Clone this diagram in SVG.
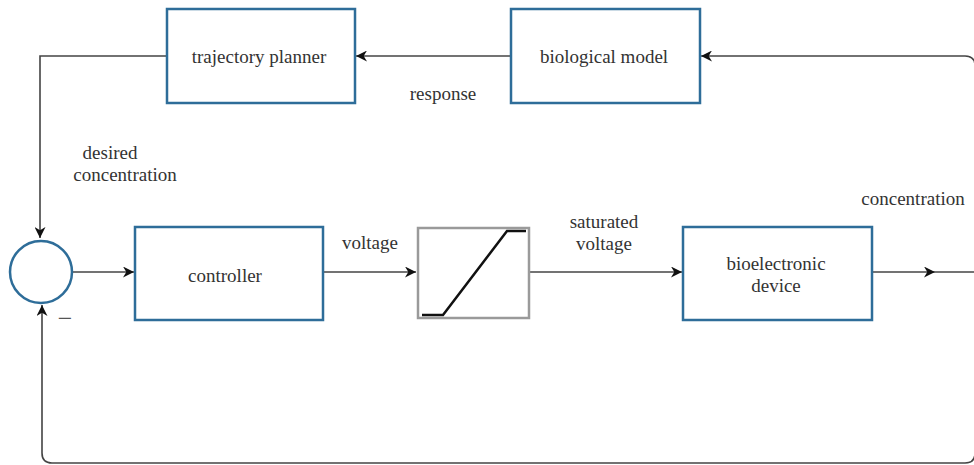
<svg xmlns="http://www.w3.org/2000/svg" width="974" height="465" viewBox="0 0 974 465">
<defs>
<marker id="ah" viewBox="0 0 10 10" refX="10" refY="5" markerWidth="11" markerHeight="11" markerUnits="userSpaceOnUse" orient="auto">
<path d="M0,0 L10,5 L0,10 L3,5 Z" fill="#111"/>
</marker>
<style>
.box{fill:#fff;stroke:#2e6d99;stroke-width:2.5}
.sat{fill:#fff;stroke:#9a9a9a;stroke-width:2.5}
.ln{fill:none;stroke:#444;stroke-width:1.6}
text{font-family:"Liberation Serif","Times New Roman",serif;font-size:19px;fill:#333;text-anchor:middle}
</style>
</defs>
<rect width="974" height="465" fill="#fff"/>
<g id="connectors">
<path class="ln" d="M167,56 H40 V238" marker-end="url(#ah)"/>
<path class="ln" d="M975,272 V66 Q975,56 965,56 H701" marker-end="url(#ah)"/>
<path class="ln" d="M511,56 H356" marker-end="url(#ah)"/>
<path class="ln" d="M72,272 H134" marker-end="url(#ah)"/>
<path class="ln" d="M323,272 H416" marker-end="url(#ah)"/>
<path class="ln" d="M530,272 H682" marker-end="url(#ah)"/>
<path class="ln" d="M872,272 H935" marker-end="url(#ah)"/>
<path class="ln" d="M935,272 H976"/>
<path class="ln" d="M975,272 V453 Q975,463 965,463 H52 Q42,463 42,453 V305" marker-end="url(#ah)"/>
</g>
<g id="trajectory-planner">
<rect class="box" x="167" y="9" width="188" height="94"/>
<text x="259" y="63">trajectory planner</text>
</g>
<g id="biological-model">
<rect class="box" x="511" y="9" width="189" height="94"/>
<text x="604" y="63">biological model</text>
</g>
<g id="sum">
<circle cx="41" cy="272" r="31" fill="#fff" stroke="#2e6d99" stroke-width="2.5"/>
<text x="65" y="327" style="font-size:26px;fill:#555">−</text>
</g>
<g id="controller">
<rect class="box" x="135" y="227" width="188" height="93"/>
<text x="225" y="282">controller</text>
</g>
<g id="saturation">
<rect class="sat" x="418" y="228" width="111" height="90"/>
<path d="M422,315 H443 L507,231 H526" fill="none" stroke="#111" stroke-width="2.5"/>
</g>
<g id="bioelectronic-device">
<rect class="box" x="683" y="227" width="189" height="93"/>
<text x="776" y="270">bioelectronic</text>
<text x="776" y="292">device</text>
</g>
<g id="labels">
<text x="443" y="100">response</text>
<text x="110" y="159">desired</text>
<text x="125" y="181">concentration</text>
<text x="370" y="249">voltage</text>
<text x="604" y="228">saturated</text>
<text x="604" y="250">voltage</text>
<text x="913" y="205">concentration</text>
</g>
</svg>
